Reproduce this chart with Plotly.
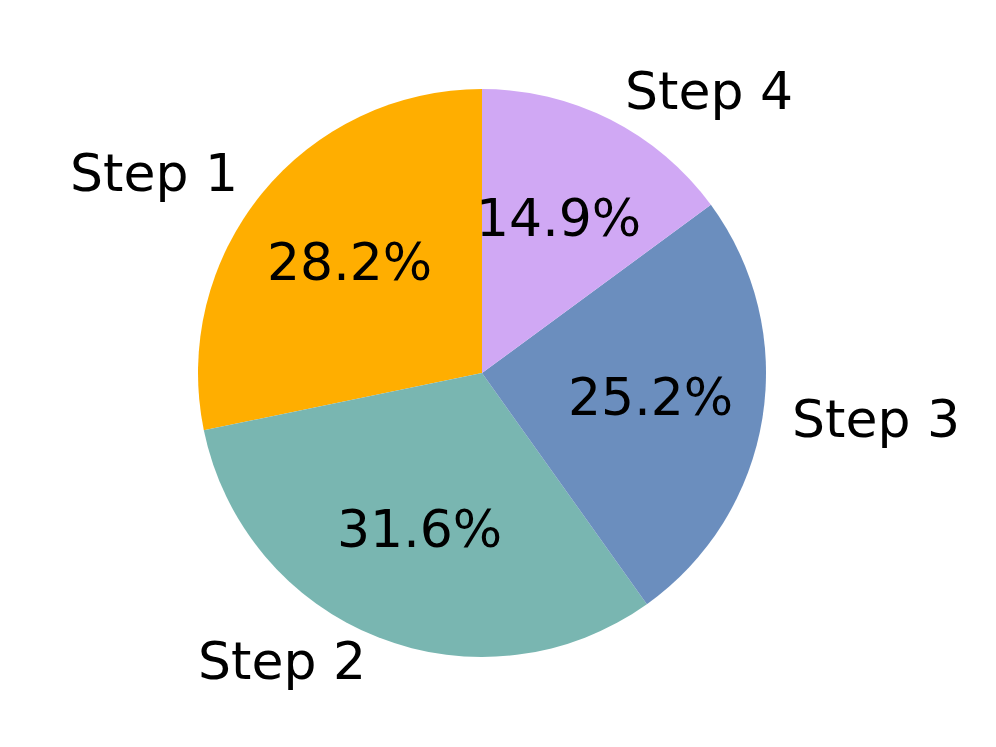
import math
import plotly.graph_objects as go

# Данные
labels = ["Step 1", "Step 2", "Step 3", "Step 4"]
values = [28.2, 31.6, 25.2, 14.9]
colors = ["#FFAE00", "#79B6B1", "#6B8EBE", "#D0A8F4"]

W, H = 996, 747
# центр и радиус круга в пикселях (с поправкой на отступ body 8px)
off = 8
cx, cy, r = 482 - off, 373 - off, 284
font = "DejaVu Sans"
fsize = 52

total = sum(values)

fig = go.Figure(go.Pie(
    labels=labels,
    values=values,
    marker=dict(colors=colors, line=dict(width=0)),
    sort=False,
    direction="counterclockwise",
    # первый сектор начинается на 12 часах и идёт против часовой
    rotation=-360.0 * values[0] / total,
    textinfo="none",
    hoverinfo="label+percent",
    domain=dict(x=[(cx - r) / W, (cx + r) / W],
                y=[1 - (cy + r) / H, 1 - (cy - r) / H]),
    showlegend=False,
))

# подписи как в matplotlib: метки на 1.1 r, проценты на 0.6 r
start = 90.0
annotations = []
for lab, v in zip(labels, values):
    span = 360.0 * v / total
    mid = math.radians(start + span / 2)
    start += span
    dx, dy = math.cos(mid), math.sin(mid)
    lx = (cx + 1.1 * r * dx) / W
    ly = 1 - (cy - 1.1 * r * dy) / H
    annotations.append(dict(
        x=lx, y=ly, xref="paper", yref="paper", text=lab, showarrow=False,
        xanchor="left" if dx > 0 else "right", yanchor="middle", yshift=3,
        font=dict(family=font, size=fsize, color="black")))
    px = (cx + 0.6 * r * dx) / W
    py = 1 - (cy - 0.6 * r * dy) / H
    annotations.append(dict(
        x=px, y=py, xref="paper", yref="paper", text=f"{100 * v / total:.1f}%",
        showarrow=False, xanchor="center", yanchor="middle", yshift=3,
        font=dict(family=font, size=fsize, color="black")))

fig.update_layout(
    width=W, height=H,
    margin=dict(l=0, r=0, t=0, b=0),
    paper_bgcolor="white",
    plot_bgcolor="white",
    annotations=annotations,
)

fig.write_html("out.html")
